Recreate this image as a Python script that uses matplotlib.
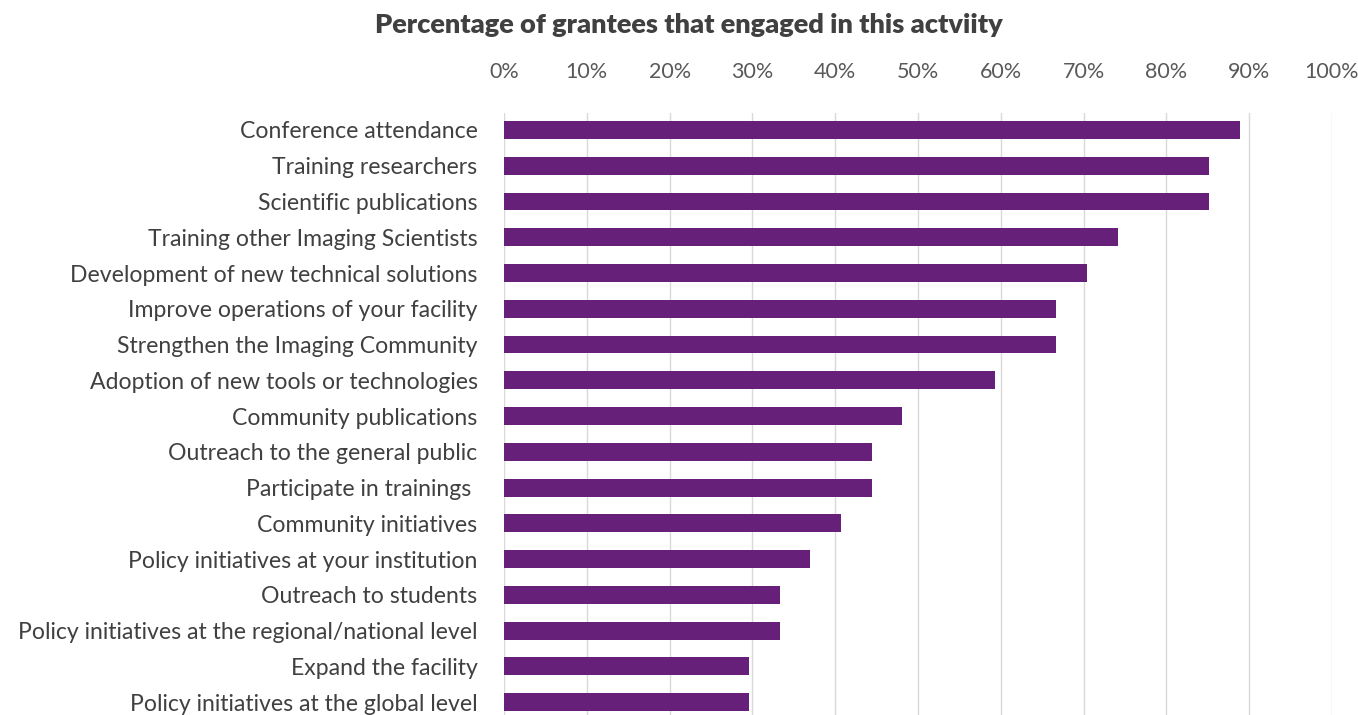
import matplotlib
matplotlib.use("Agg")
import matplotlib.pyplot as plt
from matplotlib.ticker import PercentFormatter

categories = [
    "Conference attendance",
    "Training researchers",
    "Scientific publications",
    "Training other Imaging Scientists",
    "Development of new technical solutions",
    "Improve operations of your facility",
    "Strengthen the Imaging Community",
    "Adoption of new tools or technologies",
    "Community publications",
    "Outreach to the general public",
    "Participate in trainings ",
    "Community initiatives",
    "Policy initiatives at your institution",
    "Outreach to students",
    "Policy initiatives at the regional/national level",
    "Expand the facility",
    "Policy initiatives at the global level",
]
values = [88.9, 85.2, 85.2, 74.1, 70.4, 66.7, 66.7, 59.3, 48.1, 44.4, 44.4,
          40.7, 37.0, 33.3, 33.3, 29.6, 29.6]
xticks = [0, 10, 20, 30, 40, 50, 60, 70, 80, 90, 100]
title = "Percentage of grantees that engaged in this actviity"

plt.rcParams['font.family'] = ['Lato', 'DejaVu Sans']

fig = plt.figure(figsize=(13.58, 7.15), dpi=100)
ax = fig.add_axes([504/1358, 0.0, (1332-504)/1358, 1-113/715])

ypos = list(range(len(categories)))
ax.barh(ypos, values, height=0.5, color="#66207A", zorder=3)
ax.set_xlim(0, 100)
ax.set_ylim(len(categories) - 1 + 0.36, -0.475)
ax.set_yticks(ypos)
ax.set_yticklabels(categories, fontsize=16.6, color="#404040")
ax.set_xticks(xticks)
ax.xaxis.set_major_formatter(PercentFormatter(decimals=0))
ax.xaxis.tick_top()
ax.tick_params(axis='x', length=0, pad=22, labelsize=15.5, labelcolor="#595959")
ax.tick_params(axis='y', length=0, pad=19)
ax.grid(axis='x', color="#d9d9d9", linewidth=1, zorder=0)
for s in ax.spines.values():
    s.set_visible(False)

fig.text(0.507, 0.965, title, ha='center', va='center', fontsize=19.5,
         fontweight='heavy', color="#404040")

fig.savefig("out.png", dpi=100)
